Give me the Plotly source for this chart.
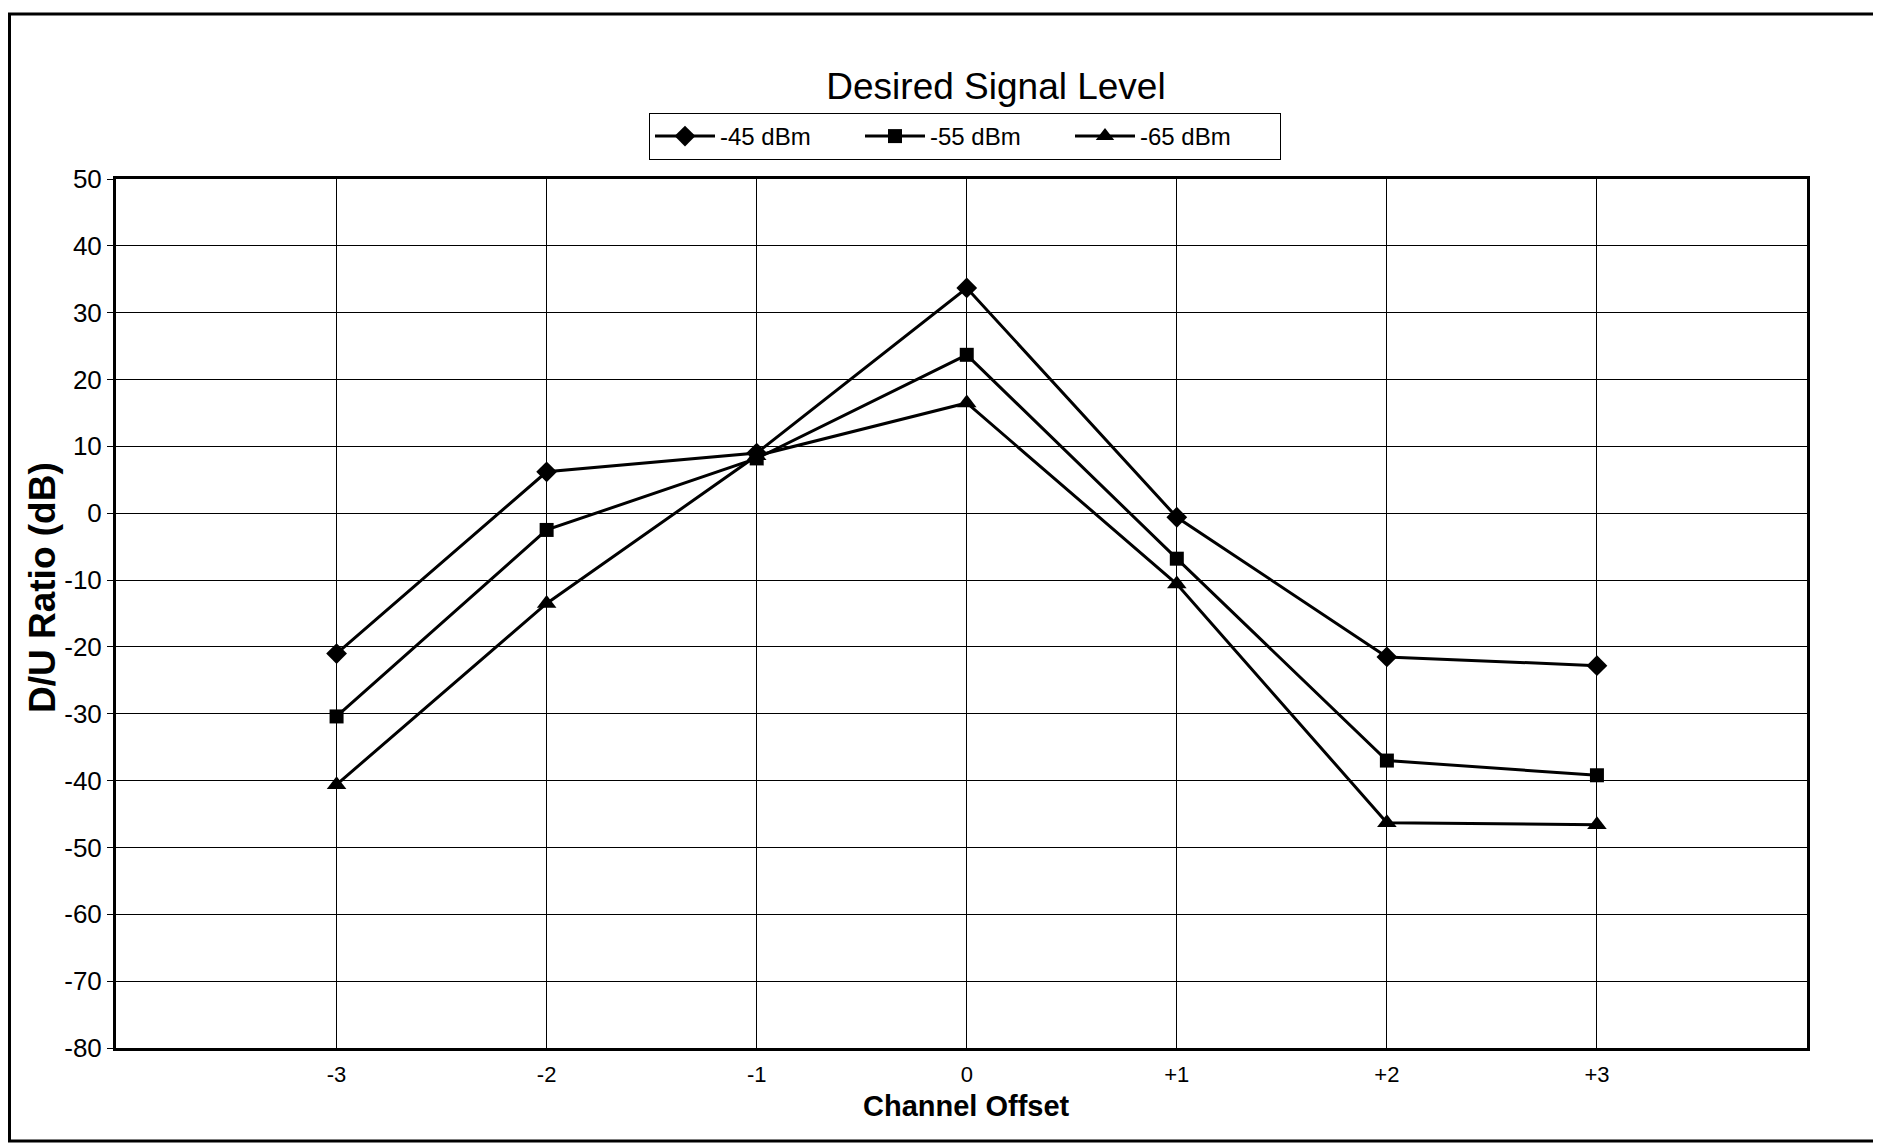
import plotly.graph_objects as go

# ---- data ----
offsets = [-3, -2, -1, 0, 1, 2, 3]
x_labels = ["-3", "-2", "-1", "0", "+1", "+2", "+3"]
series_names = ["-45 dBm", "-55 dBm", "-65 dBm"]
s45 = [-21.0, 6.2, 9.0, 33.7, -0.6, -21.5, -22.8]
s55 = [-30.4, -2.5, 8.2, 23.7, -6.8, -37.0, -39.2]
s65 = [-40.6, -13.5, 8.6, 16.5, -10.6, -46.3, -46.6]
y_ticks = list(range(-80, 51, 10))
y_labels = [str(v) for v in y_ticks]

# the page body has an 8px margin; work in screen pixels and shift
OFF = 8
W, H = 1881 - OFF, 1145 - OFF
L, R, T, B = 116 - OFF, 1807 - OFF, 179 - OFF, 1048 - OFF  # plot area in figure pixels


def px(xs):
    return (xs - OFF - L) / (R - L)


def py(ys):
    return (B - (ys - OFF)) / (B - T)


FONT = "Arial, Liberation Sans, sans-serif"

fig = go.Figure()
symbols = ["diamond", "square", "triangle-up"]
sizes = [16, 14, 17]
for name, vals, sym, sz in zip(series_names, [s45, s55, s65], symbols, sizes):
    fig.add_trace(go.Scatter(
        x=offsets, y=vals, name=name, mode="lines+markers",
        line=dict(color="black", width=3),
        marker=dict(symbol=sym, size=sz, color="black"),
    ))

fig.update_layout(
    width=W, height=H,
    margin=dict(l=L, r=W - R, t=T, b=H - B),
    paper_bgcolor="white", plot_bgcolor="white",
    font=dict(family=FONT, color="black"),
    title=dict(text="Desired Signal Level", x=(996 - OFF) / W, xanchor="center",
               y=1 - (86 - OFF) / H, yanchor="middle", font=dict(size=37, color="black")),
    showlegend=True,
    legend=dict(orientation="h", x=px(965), xanchor="center", y=py(113), yanchor="top",
                bordercolor="black", borderwidth=1, bgcolor="white",
                itemwidth=60, entrywidth=135,
                font=dict(size=24, color="black")),
    xaxis=dict(range=[-4.05, 4.0], tickvals=offsets, ticktext=x_labels,
               showgrid=True, gridcolor="black", gridwidth=1, zeroline=False,
               showline=True, linecolor="black", linewidth=3, mirror=True,
               ticks="", ticklabelstandoff=5,
               tickfont=dict(size=22, color="black")),
    yaxis=dict(range=[-80, 50], tickvals=y_ticks, ticktext=y_labels,
               showgrid=True, gridcolor="black", gridwidth=1, zeroline=False,
               showline=True, linecolor="black", linewidth=3, mirror=True,
               ticks="outside", ticklen=6, tickcolor="black", tickwidth=1,
               tickfont=dict(size=26, color="black")),
    annotations=[
        dict(text="<b>Channel Offset</b>", xref="paper", yref="paper",
             x=px(966), y=py(1106), xanchor="center", yanchor="middle",
             showarrow=False, font=dict(size=29, color="black")),
        dict(text="<b>D/U Ratio (dB)</b>", xref="paper", yref="paper",
             x=px(42), y=py(588), xanchor="center", yanchor="middle",
             textangle=-90, showarrow=False, font=dict(size=37, color="black")),
    ],
    shapes=[
        dict(type="rect", xref="paper", yref="paper",
             x0=px(OFF + 1.5), x1=px(1900), y0=py(1141), y1=py(14),
             line=dict(color="black", width=3), layer="below"),
    ],
)

fig.write_html("out.html")
